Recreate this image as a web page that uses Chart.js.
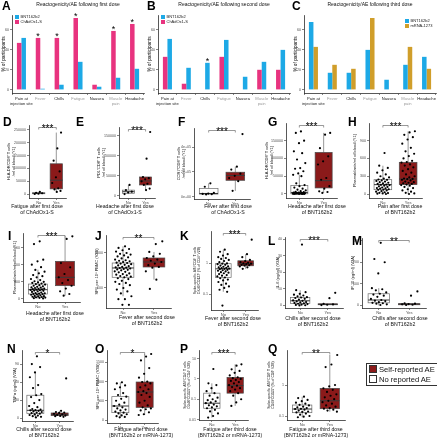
<!DOCTYPE html>
<html>
<head>
<meta charset="utf-8">
<script src="https://cdn.jsdelivr.net/npm/chart.js@4.4.1/dist/chart.umd.min.js"></script>
<style>
  body { margin: 0; background: #fff; font-family: "Liberation Sans", Arial, sans-serif; }
  #fig { position: relative; width: 437px; height: 440px; overflow: hidden; }
  canvas, .tag, .xt, .key { position: absolute; }
  .tag { font-weight: bold; font-size: 12px; line-height: 12px; color: #000; }
  .xt { width: 100px; font-size: 5.2px; line-height: 6px; text-align: center; white-space: nowrap; color: #111; }
  .key { font-size: 4px; line-height: 5px; white-space: nowrap; color: #222; }
  .key i { display: inline-block; width: 4px; height: 4px; margin-right: 1.5px; vertical-align: -0.6px; }
  #aeKey { left: 366px; top: 363px; width: 66px; border: 1px solid #333; padding: 1px 2px; font-size: 7.6px; line-height: 8.4px; color: #111; }
  #aeKey i { width: 6px; height: 6px; border: 0.8px solid #333; margin-right: 2px; vertical-align: -0.8px; }
</style>
</head>
<body>
<div id="fig"></div>
<script>
const FONT = '"Liberation Sans", Arial, sans-serif';
Chart.defaults.font.family = FONT;

// A-C: % of participants reporting each AE
const symptoms = [['Pain at', 'injection site'], 'Fever', 'Chills', 'Fatigue', 'Nausea', ['Muscle', 'pain'], 'Headache'];
const pctTicks = [0, 20, 40, 60];
const dose1ChAdOx = [47, 52, 52, 72, 5, 59, 66];
const dose1Bnt = [52, 1, 5, 28, 3, 12, 21];
const dose1Stars = ['', '*', '*', '*', '', '*', '*'];
const dose2ChAdOx = [33, 6, 0, 33, 0, 20, 20];
const dose2Bnt = [51, 22, 27, 50, 13, 28, 40];
const dose2Stars = ['', '', '*', '', '', '', ''];
const dose3Bnt = [68, 17, 17, 40, 10, 25, 33];
const dose3Mrna = [43, 25, 21, 72, 0, 43, 21];

// D-Q: No / Yes groups, box stats are [low whisker, q1, median, q3, high whisker]
const groups = ['No', 'Yes'];

const dTicks = [0, 50000, 100000, 150000, 200000, 250000];
const dNo = [8000, 5000, 3000, 1000, 0];
const dYes = [240000, 178000, 130000, 88000, 65000, 43000, 22000, 18000, 12000, 8000];
const dBox = [[0, 1000, 3000, 5000, 8000], [8000, 20000, 54000, 118000, 240000]];

const eTicks = [0, 50000, 100000, 150000];
const eNo = [27000, 14000, 10000, 8000, 4000];
const eYes = [160000, 93000, 47000, 44000, 41000, 36000, 30000, 27000, 18000, 14000];
const eBox = [[4000, 6000, 10000, 14000, 27000], [14000, 27000, 37000, 47000, 47000]];

const fTicks = [0, 200000, 400000];
const fTickText = ['0e+00', '2e+05', '4e+05'];
const fNo = [108000, 80000, 30000, 25000, 22000, 20000, 18000];
const fYes = [504000, 242000, 218000, 185000, 168000, 150000, 125000, 47000];
const fBox = [[18000, 21000, 26000, 65000, 108000], [47000, 132000, 171000, 197000, 242000]];

const gTicks = [0, 50000, 100000, 150000];
const gNo = [176000, 172000, 150000, 143000, 120000, 115000, 97000, 87000, 73000, 71000, 64000, 58000, 54000, 50000,
  30000, 25000, 22000, 18000, 15000, 12000, 10000, 8000, 6000, 5000, 4000, 4000, 3000, 3000, 2000, 2000,
  1500, 1000, 1000, 800, 500, 500, 300, 200, 100, 0];
const gYes = [172000, 167000, 129000, 106000, 92000, 83000, 45000, 40000, 22000, 15000, 7500, 5600, 3000];
const gBox = [[0, 500, 4000, 24000, 54000], [3000, 17000, 37500, 117000, 172000]];

const hTicks = [0, 300, 600, 900];
const hNo = [692, 478, 440, 400, 360, 330, 300, 280, 260, 245, 240, 230, 220, 210, 200, 190, 180, 170, 160, 155,
  150, 140, 130, 120, 110, 100, 95, 90, 80, 75, 70, 60, 50, 40, 30, 20, 15, 10, 5, 0];
const hYes = [1060, 1040, 1000, 960, 920, 850, 780, 720, 680, 640, 600, 560, 540, 530, 500, 480, 450, 420, 390, 360,
  330, 300, 280, 260, 255, 250, 240, 230, 210, 200, 190, 180, 170, 160, 150, 140, 120, 100, 80, 60, 40, 20, 10, 0];
const hBox = [[0, 73, 158, 242, 478], [0, 158, 253, 535, 1058]];

const iTicks = [0, 300, 600, 900];
const iNo = [1018, 970, 692, 663, 604, 560, 510, 480, 450, 420, 400, 380, 350, 330, 310, 300, 290, 280, 270, 260,
  250, 240, 230, 220, 210, 200, 195, 190, 180, 175, 170, 165, 160, 155, 150, 145, 140, 130, 120, 110,
  100, 95, 90, 85, 80, 75, 70, 60, 50, 45, 40, 35, 30, 25, 20, 15, 10, 5];
const iYes = [1107, 1060, 633, 556, 438, 379, 330, 278, 230, 180, 130, 83, 53];
const iBox = [[0, 83, 160, 260, 515], [53, 231, 379, 663, 1107]];

const jTicks = [100, 1000];
const jNo = [1550, 1400, 1300, 1200, 1100, 1000, 950, 900, 850, 800, 750, 700, 650, 620, 600, 580, 550, 530, 518, 500,
  480, 460, 440, 420, 400, 390, 380, 373, 360, 350, 340, 330, 320, 300, 290, 280, 260, 250, 240, 230,
  220, 210, 202, 190, 180, 160, 150, 140, 130, 120, 100, 90, 80, 70, 58, 48, 48, 33, 33];
const jYes = [2150, 1800, 1070, 950, 800, 720, 650, 600, 553, 500, 450, 400, 380, 300, 173, 94];
const jBox = [[58, 202, 373, 518, 1550], [173, 398, 553, 720, 1070]];

const kTicks = [0.1, 1];
const kNo = [2.8, 2.4, 2.0, 1.8, 1.6, 1.5, 1.4, 1.3, 1.2, 1.1, 1.0, 0.98, 0.95, 0.9, 0.85, 0.8, 0.78, 0.75, 0.72, 0.7,
  0.68, 0.67, 0.65, 0.62, 0.6, 0.58, 0.55, 0.52, 0.5, 0.48, 0.45, 0.42, 0.4, 0.38, 0.35, 0.33, 0.3, 0.28,
  0.25, 0.22, 0.2, 0.18, 0.16, 0.14, 0.12, 0.043];
const kYes = [5.9, 2.0, 1.6, 1.3, 1.2, 1.1, 1.05, 1.0, 0.98, 0.95, 0.9, 0.88, 0.85, 0.8, 0.75, 0.67];
const kBox = [[0.12, 0.35, 0.67, 0.98, 2.8], [0.67, 0.84, 0.98, 1.22, 2.0]];

const lTicks = [0, 10, 20, 30, 40];
const lNo = [36.8, 9.2, 8.0, 7.0, 6.5, 6.0, 5.5, 5.0, 4.8, 4.5, 4.0, 3.5, 3.0, 2.8, 2.5, 2.0, 1.8, 1.5, 1.2, 1.0,
  0.8, 0.5, 0.3, 0.1, 0];
const lYes = [7.6, 4.4, 1.0, 0.6, 0.4, 0.2];
const lBox = [[0, 1.2, 2.8, 4.8, 9.2], [0.2, 0.4, 0.6, 1.0, 1.0]];

const mTicks = [0, 100, 200, 300];
const mNo = [290, 215, 200, 148, 80, 75, 70, 60, 54, 50, 45, 40, 30, 25, 22, 20, 15, 12, 10, 8, 5, 2];
const mYes = [65, 45, 10, 8, 6, 5, 3, 2];
const mBox = [[0, 12, 25, 54, 80], [2, 3, 6, 8, 10]];

const nTicks = [0, 30, 60, 90];
const nNo = [103, 90, 85, 76, 68, 55, 50, 40, 38, 35, 30, 25, 20, 18, 15, 14, 13, 12.8, 12, 11, 10, 9, 8, 7.3, 6, 5, 4, 3, 2, 1];
const nYes = [66, 12, 10, 9, 8.4, 7, 6.1, 5, 4, 3.5, 3, 2];
const nBox = [[0, 7.3, 12.8, 38, 76], [2, 3.9, 6.1, 8.4, 12]];

const oTicks = [0, 500, 1000, 1500];
const oNo = [979, 950, 900, 850, 800, 700, 650, 607, 550, 500, 450, 400, 364, 330, 300, 270, 250, 220, 191, 170, 150, 120, 100, 80, 69];
const oYes = [1716, 1650, 1550, 1350, 1200, 1100, 1000, 988, 950, 900, 850, 800, 750, 728, 700, 650, 600, 500, 450, 380,
  329, 300, 280, 250, 200, 150, 130];
const oBox = [[69, 191, 364, 607, 979], [130, 329, 728, 988, 1716]];

const pTicks = [0.01, 0.1, 1, 10];
const pNo = [3.1, 0.61, 0.5, 0.35, 0.25, 0.2, 0.15, 0.12, 0.1, 0.09, 0.08, 0.07, 0.064, 0.055, 0.05, 0.045, 0.04, 0.036,
  0.03, 0.025, 0.02, 0.015, 0.0125];
const pYes = [5.3, 4.5, 3.0, 2.5, 2.0, 1.5, 1.2, 1.1, 1.0, 0.9, 0.8, 0.7, 0.6, 0.5, 0.47, 0.4, 0.35, 0.3, 0.25, 0.2,
  0.15, 0.1, 0.07, 0.047];
const pBox = [[0.0125, 0.036, 0.064, 0.2, 0.61], [0.047, 0.2, 0.47, 1.2, 5.3]];

const qTicks = [0.1, 1];
const qNo = [0.42, 0.38, 0.33, 0.3, 0.27, 0.25, 0.23, 0.22, 0.2, 0.19, 0.18, 0.17, 0.168, 0.16, 0.15, 0.14, 0.135, 0.13,
  0.12, 0.11, 0.1, 0.095, 0.091];
const qYes = [9.3, 4.6, 3.8, 1.0, 0.9, 0.78, 0.7, 0.6, 0.5, 0.45, 0.4, 0.35, 0.31, 0.28, 0.25, 0.22, 0.2, 0.18, 0.172,
  0.16, 0.15, 0.138];
const qBox = [[0.091, 0.128, 0.168, 0.226, 0.42], [0.138, 0.172, 0.31, 0.78, 9.3]];

const BLUE = '#1DA9E6', PINK = '#E8337F', GOLD = '#D09E2A', AE_RED = '#8B1A1A';
const fig = document.getElementById('fig');

function addCanvas(left, top, w, h) {
  const c = document.createElement('canvas');
  c.width = Math.round(w); c.height = Math.round(h);
  c.style.left = left + 'px'; c.style.top = top + 'px';
  fig.appendChild(c);
  return c;
}

function addText(cls, left, top, html, id) {
  const d = document.createElement('div');
  d.className = cls;
  if (id) d.id = id;
  d.style.left = left + 'px'; d.style.top = top + 'px';
  d.innerHTML = html;
  fig.appendChild(d);
  return d;
}

const axisGrid = { drawOnChartArea: false, tickLength: 2, color: '#333', lineWidth: 0.6 };
const axisBorder = { color: '#111', width: 0.7 };

const barStars = {
  id: 'barStars',
  afterDatasetsDraw(chart, args, opts) {
    const meta = chart.getDatasetMeta(opts.series);
    const ctx = chart.ctx;
    ctx.save();
    ctx.font = '9px ' + FONT;
    ctx.fillStyle = '#000';
    ctx.textAlign = 'center';
    ctx.textBaseline = 'alphabetic';
    opts.marks.forEach((m, i) => {
      if (m) ctx.fillText(m, meta.data[i].x, meta.data[i].y + 1.2);
    });
    ctx.restore();
  }
};

function barPanel(left, title, series, starSeries, stars) {
  const canvas = addCanvas(left, 0, 146, 106);
  new Chart(canvas, {
    type: 'bar',
    data: {
      labels: symptoms,
      datasets: series.map(s => ({
        label: s.label, data: s.data, backgroundColor: s.color,
        categoryPercentage: 0.48, barPercentage: 1, borderWidth: 0
      }))
    },
    options: {
      animation: false, responsive: false, devicePixelRatio: 1,
      layout: { padding: { left: 0, right: 2, top: 0, bottom: 0 } },
      plugins: {
        legend: { display: false }, tooltip: { enabled: false },
        title: { display: true, text: title, fullSize: false, color: '#111',
          font: { size: 5, weight: 'normal' }, padding: { top: 2, bottom: 7 } },
        barStars: { series: starSeries, marks: stars }
      },
      scales: {
        x: {
          grid: axisGrid, border: axisBorder,
          ticks: { font: { size: 4.1, lineHeight: 1.2 }, padding: 1, maxRotation: 0, autoSkip: false,
            color: ctx => ctx.index % 2 ? '#9a9a9a' : '#222' },
          afterFit: s => { s.height = 13; }
        },
        y: {
          min: -3.3, max: 75,
          afterBuildTicks: s => { s.ticks = pctTicks.map(v => ({ value: v })); },
          grid: axisGrid, border: axisBorder,
          ticks: { font: { size: 3.6 }, color: '#4d4d4d', padding: 1 },
          title: { display: true, text: '% of participants', color: '#111', font: { size: 4.8 }, padding: { top: 0.6, bottom: 0 } },
          afterFit: s => { s.width = 12; }
        }
      }
    },
    plugins: [barStars]
  });
}

barPanel(0, 'Reactogenicity/AE following first dose',
  [{ label: 'ChAdOx1-S', data: dose1ChAdOx, color: PINK }, { label: 'BNT162b2', data: dose1Bnt, color: BLUE }], 0, dose1Stars);
barPanel(146, 'Reactogenicity/AE following second dose',
  [{ label: 'ChAdOx1-S', data: dose2ChAdOx, color: PINK }, { label: 'BNT162b2', data: dose2Bnt, color: BLUE }], 1, dose2Stars);
barPanel(292, 'Reactogenicity/AE following third dose',
  [{ label: 'BNT162b2', data: dose3Bnt, color: BLUE }, { label: 'mRNA-1273', data: dose3Mrna, color: GOLD }], 0, []);

// box plots
const YW = 24, PADTOP = 6, XH = 7, BOXW = 0.7;

const boxPlugin = {
  id: 'boxes',
  beforeDatasetsDraw(chart, args, opts) {
    const xs = chart.scales.x, ys = chart.scales.y, ctx = chart.ctx;
    opts.stats.forEach((s, g) => {
      const cx = xs.getPixelForValue(g + 1);
      const x0 = xs.getPixelForValue(g + 1 - BOXW / 2), x1 = xs.getPixelForValue(g + 1 + BOXW / 2);
      const [lo, q1, md, q3, hi] = s.map(v => ys.getPixelForValue(v));
      ctx.save();
      ctx.strokeStyle = '#6b6b6b';
      ctx.lineWidth = 0.7;
      ctx.beginPath();
      ctx.moveTo(cx, hi); ctx.lineTo(cx, q3);
      ctx.moveTo(cx, q1); ctx.lineTo(cx, lo);
      ctx.stroke();
      ctx.fillStyle = g ? AE_RED : '#fff';
      ctx.fillRect(x0, q3, x1 - x0, q1 - q3);
      ctx.strokeStyle = g ? '#4a4a4a' : '#6b6b6b';
      ctx.strokeRect(x0, q3, x1 - x0, q1 - q3);
      ctx.lineWidth = 1;
      ctx.strokeStyle = g ? '#3a3a3a' : '#333';
      ctx.beginPath(); ctx.moveTo(x0, md); ctx.lineTo(x1, md); ctx.stroke();
      ctx.restore();
    });
  },
  afterDatasetsDraw(chart, args, opts) {
    const xs = chart.scales.x, ctx = chart.ctx;
    const y = chart.chartArea.top + 2.5;
    const a = xs.getPixelForValue(1), b = xs.getPixelForValue(2);
    ctx.save();
    ctx.strokeStyle = '#555';
    ctx.lineWidth = 0.6;
    ctx.beginPath();
    ctx.moveTo(a, y + 2); ctx.lineTo(a, y); ctx.lineTo(b, y); ctx.lineTo(b, y + 2);
    ctx.stroke();
    ctx.font = '10px ' + FONT;
    ctx.fillStyle = '#000';
    ctx.textAlign = 'center';
    ctx.textBaseline = 'alphabetic';
    ctx.fillText(opts.sig, (a + b) / 2, y + 4);
    ctx.restore();
  }
};

function jitter(i, g) {
  return (((i + 1) * 0.618034 + g * 0.37) % 1 - 0.5) * 0.55;
}

function boxPanel(p) {
  const [l, t, r, b] = p.rect;
  const canvas = addCanvas(l - YW, t - PADTOP, r - l + YW + 2, b - t + PADTOP + XH);
  const pts = [];
  [p.no, p.yes].forEach((vals, g) => vals.forEach((v, i) => pts.push({ x: g + 1 + jitter(i, g), y: v })));
  const yFont = p.yFont || 4;
  const lines = Array.isArray(p.yTitle) ? p.yTitle : [p.yTitle];
  new Chart(canvas, {
    type: 'scatter',
    data: { datasets: [{ data: pts, pointRadius: 1.1, pointBackgroundColor: '#000', pointBorderWidth: 0, clip: false }] },
    options: {
      animation: false, responsive: false, devicePixelRatio: 1,
      layout: { padding: { left: 0, right: 2, top: PADTOP, bottom: 0 } },
      plugins: { legend: { display: false }, tooltip: { enabled: false }, boxes: { stats: p.box, sig: p.sig } },
      scales: {
        x: {
          type: 'linear', min: 0.45, max: 2.55,
          afterBuildTicks: s => { s.ticks = [{ value: 1 }, { value: 2 }]; },
          grid: axisGrid, border: axisBorder,
          ticks: { callback: (v, i) => groups[i], font: { size: 4 }, color: '#4d4d4d', padding: 0.5 },
          afterFit: s => { s.height = XH; }
        },
        y: {
          type: p.log ? 'logarithmic' : 'linear', min: p.range[0], max: p.range[1],
          afterBuildTicks: s => { s.ticks = p.ticks.map(v => ({ value: v })); },
          grid: axisGrid, border: axisBorder,
          ticks: { callback: (v, i) => p.tickText ? p.tickText[i] : String(p.ticks[i]), font: { size: 3.6 }, color: '#4d4d4d', padding: 1 },
          title: { display: true, text: lines, color: '#111', font: { size: yFont, lineHeight: 1.1 },
            padding: { top: YW + p.tx - yFont * 0.55, bottom: 0 } },
          afterFit: s => { s.width = YW; }
        }
      }
    },
    plugins: [boxPlugin]
  });
  addText('xt', p.xc - 50, p.xy - 3, p.xTitle.join('<br>'));
}

const ofBnt = 'of BNT162b2';
const third = ['Fatigue after third dose', '(BNT162b2 or mRNA-1273)'];
const panels = [
  { no: dNo, yes: dYes, box: dBox, ticks: dTicks, range: [-15600, 269500], sig: '***', rect: [29, 125, 68, 198],
    yTitle: ['HLA-DR⁺CD8⁺ T cells', '/ml of blood (Y1)'], tx: -20, xTitle: ['Fatigue after first dose', 'of ChAdOx1-S'], xc: 37, xy: 205.7 },
  { no: eNo, yes: eYes, box: eBox, ticks: eTicks, range: [-5800, 172600], sig: '***', rect: [119, 127, 157, 198],
    yTitle: ['PD1⁺CD8⁺ T cells', '/ml of blood (Y1)'], tx: -20, xTitle: ['Headache after first dose', 'of ChAdOx1-S'], xc: 125, xy: 205.7 },
  { no: fNo, yes: fYes, box: fBox, ticks: fTicks, tickText: fTickText, range: [-18500, 553000], sig: '***', rect: [194, 128, 252, 199],
    yTitle: ['CCR7⁺CD8⁺ T cells', '/ml of blood (Y1)'], tx: -15, xTitle: ['Fever after first dose', 'of ChAdOx1-S'], xc: 228, xy: 206 },
  { no: gNo, yes: gYes, box: gBox, ticks: gTicks, range: [-11300, 199800], sig: '***', rect: [286, 123, 339, 198],
    yTitle: ['HLA-DR⁺CD8⁺ T cells', '/ml of blood (Y1)'], tx: -19, xTitle: ['Headache after first dose', ofBnt], xc: 317, xy: 206.3 },
  { no: hNo, yes: hYes, box: hBox, ticks: hTicks, range: [-67.5, 1199], sig: '***', rect: [369, 123, 424, 198],
    yTitle: 'Plasmablasts/ml of blood (Y1)', tx: -14, xTitle: ['Pain after first dose', ofBnt], xc: 400, xy: 206.3 },
  { no: iNo, yes: iYes, box: iBox, ticks: iTicks, range: [-58.6, 1166], sig: '***', rect: [23, 233, 82, 302],
    yTitle: 'Plasmablasts/ml of blood (Y1)', tx: -8.5, xTitle: ['Headache after first dose', ofBnt], xc: 55, xy: 313 },
  { no: jNo, yes: jYes, box: jBox, ticks: jTicks, log: true, range: [26.8, 3268], sig: '**', rect: [106, 235, 173, 308],
    yTitle: 'SFU per 10⁶ PBMC (V2B)', tx: -9.5, xTitle: ['Fever after second dose', ofBnt], xc: 147, xy: 317.3 },
  { no: kNo, yes: kYes, box: kBox, ticks: kTicks, log: true, range: [0.0308, 11.3], sig: '***', rect: [211, 231, 260, 310],
    yTitle: ['Spike-specific AIM⁺CD4⁺ T cells', 'OX40⁺CD137⁺ (% of CD4⁺ V2B)'], yFont: 3.4, tx: -16, xTitle: ['Fever after second dose', ofBnt], xc: 233, xy: 318 },
  { no: lNo, yes: lYes, box: lBox, ticks: lTicks, range: [-1.56, 41.4], sig: '***', rect: [285, 237, 345, 308],
    yTitle: 'IL-6 (pg/ml) (V2A)', tx: -7.5, xTitle: ['Chills after second dose', ofBnt], xc: 313, xy: 318.3 },
  { no: mNo, yes: mYes, box: mBox, ticks: mTicks, range: [-12, 312.4], sig: '**', rect: [362, 238, 428, 308],
    yTitle: 'IP-10 (pg/ml) (V2A)', tx: -9.5, xTitle: ['Chills after second dose', ofBnt], xc: 400, xy: 318.3 },
  { no: nNo, yes: nYes, box: nBox, ticks: nTicks, range: [-5, 113.5], sig: '*', rect: [22, 350, 75, 421],
    yTitle: 'TNFα (pg/ml) (V2A)', tx: -7.5, xTitle: ['Chills after second dose', ofBnt], xc: 44, xy: 429 },
  { no: oNo, yes: oYes, box: oBox, ticks: oTicks, range: [-78, 1820], sig: '*', rect: [107, 350, 160, 423],
    yTitle: 'SFU per 10⁶ PBMC (V3B)', tx: -9.5, xTitle: third, xc: 141, xy: 429 },
  { no: pNo, yes: pYes, box: pBox, ticks: pTicks, log: true, range: [0.0095, 26.8], sig: '***', rect: [199, 350, 250, 420],
    yTitle: ['Spike-specific AIM⁺CD4⁺ T cells', 'OX40⁺CD137⁺ (% of CD4⁺ V3B)'], yFont: 3.4, tx: -14, xTitle: third, xc: 230, xy: 429 },
  { no: qNo, yes: qYes, box: qBox, ticks: qTicks, log: true, range: [0.0743, 13.5], sig: '**', rect: [287, 350, 347, 420],
    yTitle: ['Spike-specific AIM⁺CD8⁺ T cells', 'CD69⁺CD137⁺ (% of CD8⁺ V3B)'], yFont: 3.4, tx: -18, xTitle: third, xc: 316, xy: 429 }
];
panels.forEach(boxPanel);

// panel letters
const letters = [['A', 2, 2], ['B', 147, 2], ['C', 292, 2],
  ['D', 3, 118], ['E', 76, 118], ['F', 178, 118], ['G', 268, 118], ['H', 348, 118],
  ['I', 8, 232], ['J', 95, 232], ['K', 180, 232], ['L', 268, 237], ['M', 352, 237],
  ['N', 7, 345], ['O', 95, 345], ['P', 180, 345], ['Q', 268, 345]];
letters.forEach(([s, x, y]) => addText('tag', x, y - 1.6, s));

// legends
const sw = c => '<i style="background:' + c + '"></i>';
addText('key', 15, 14, sw(BLUE) + 'BNT162b2<br>' + sw(PINK) + 'ChAdOx1-S');
addText('key', 161, 14, sw(BLUE) + 'BNT162b2<br>' + sw(PINK) + 'ChAdOx1-S');
addText('key', 405, 18, sw(BLUE) + 'BNT162b2<br>' + sw(GOLD) + 'mRNA-1273');
addText('key', 366, 363, sw(AE_RED) + 'Self-reported AE<br>' + sw('#fff') + 'No reported AE', 'aeKey');
</script>
</body>
</html>
